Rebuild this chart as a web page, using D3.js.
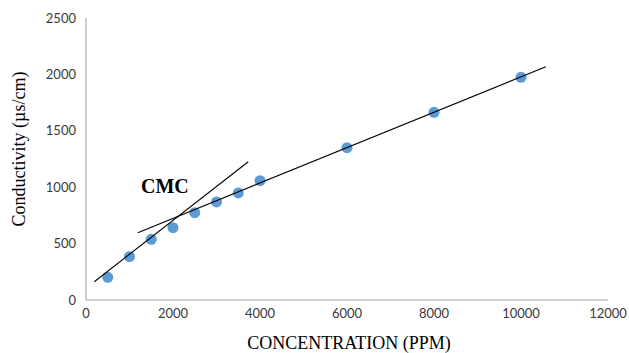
<!DOCTYPE html>
<html>
<head>
<meta charset="utf-8">
<script src="https://cdn.jsdelivr.net/npm/d3@7"></script>
<style>
  body { margin: 0; background: #fff; }
  .tick-label { font-family: Lato, "Open Sans", sans-serif; font-size: 13px; fill: #3a3a3a; }
  .axis-title { font-family: "Liberation Serif", "Times New Roman", serif; font-size: 18px; fill: #000; }
</style>
</head>
<body>
<svg id="chart" width="629" height="353"></svg>
<script>
// measured data points
const concentration = [500, 1000, 1500, 2000, 2500, 3000, 3500, 4000, 6000, 8000, 10000];
const conductivity = [201, 384, 538, 641, 774, 869, 949, 1058, 1350, 1664, 1974];

// hand-drawn fit lines (endpoints)
const fitBelow = [[190, 162], [3730, 1226]];
const fitAbove = [[1190, 597], [10570, 2068]];

const xTicks = [0, 2000, 4000, 6000, 8000, 10000, 12000];
const yTicks = [0, 500, 1000, 1500, 2000, 2500];

const svg = d3.select("#chart");
const margin = {left: 86, right: 21, top: 18, bottom: 53};
const W = 629, H = 353;

const x = d3.scaleLinear().domain([0, 12000]).range([margin.left, W - margin.right]);
const y = d3.scaleLinear().domain([0, 2500]).range([H - margin.bottom, margin.top]);

// axes lines
svg.append("line")
  .attr("x1", x(0)).attr("x2", x(0))
  .attr("y1", y(2500)).attr("y2", y(0))
  .attr("stroke", "#bfbfbf").attr("stroke-width", 1.5);
svg.append("line")
  .attr("x1", x(0)).attr("x2", x(12000))
  .attr("y1", y(0)).attr("y2", y(0))
  .attr("stroke", "#bfbfbf").attr("stroke-width", 1.5);

svg.selectAll(".xl").data(xTicks).enter().append("text")
  .attr("class", "tick-label")
  .attr("x", d => x(d)).attr("y", y(0) + 18)
  .attr("text-anchor", "middle")
  .text(d => d);

svg.selectAll(".yl").data(yTicks).enter().append("text")
  .attr("class", "tick-label")
  .attr("x", x(0) - 10).attr("y", d => y(d) + 4.5)
  .attr("text-anchor", "end")
  .text(d => d);

// points
const pts = concentration.map((c, i) => [c, conductivity[i]]);
svg.selectAll(".pt").data(pts).enter().append("circle")
  .attr("cx", d => x(d[0])).attr("cy", d => y(d[1]))
  .attr("r", 5.5)
  .attr("fill", "#5b9bd5");

// fit lines
const line = d3.line().x(d => x(d[0])).y(d => y(d[1]));
[fitBelow, fitAbove].forEach(seg => {
  svg.append("path").attr("d", line(seg))
    .attr("fill", "none").attr("stroke", "#000").attr("stroke-width", 1.1);
});

svg.append("text")
  .attr("x", 141).attr("y", 193)
  .attr("font-family", "'Liberation Serif', 'Times New Roman', serif")
  .attr("font-weight", "bold").attr("font-size", 20)
  .text("CMC");

svg.append("text")
  .attr("class", "axis-title")
  .attr("x", (x(0) + x(12000)) / 2 + 2).attr("y", 349)
  .attr("text-anchor", "middle")
  .text("CONCENTRATION (PPM)");

svg.append("text")
  .attr("class", "axis-title")
  .attr("transform", "translate(25,149) rotate(-90)")
  .attr("text-anchor", "middle")
  .text("Conductivity (µs/cm)");
</script>
</body>
</html>
